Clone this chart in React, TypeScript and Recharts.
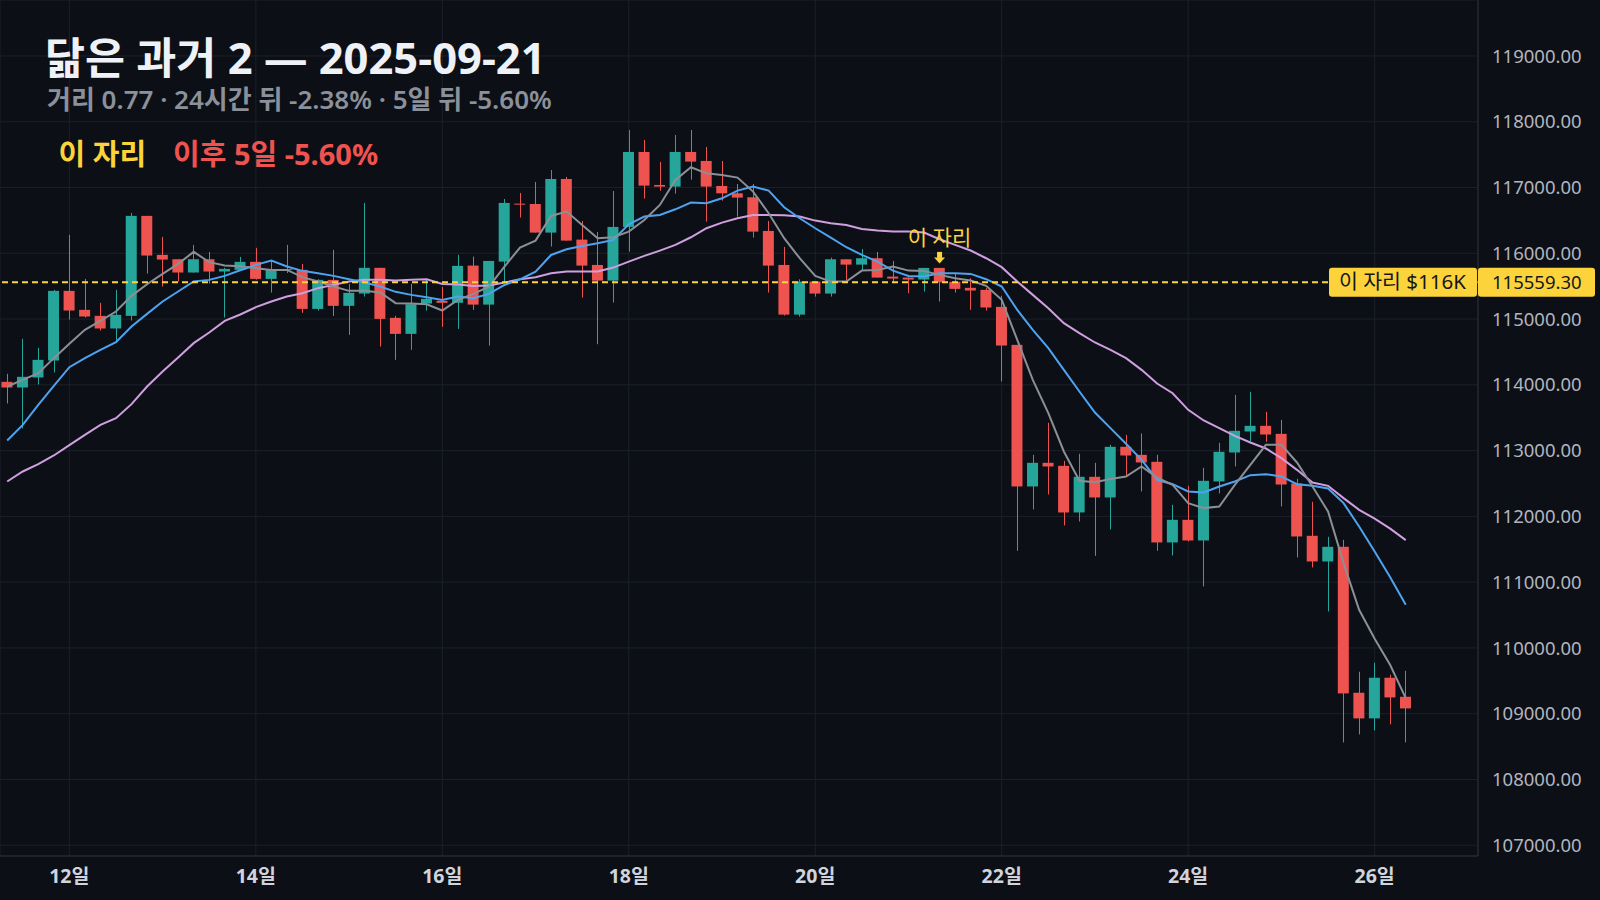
import React from "react";
import {
  Bar,
  CartesianGrid,
  ComposedChart,
  Line,
  ReferenceDot,
  ReferenceLine,
  XAxis,
  YAxis,
} from "recharts";

// 4h candles, 11일 08:00 ~ 26일 08:00
const opens = [
  114046, 113960, 114112, 114370, 115429, 115140, 115049, 114857, 115049, 116569,
  115976, 115910, 115708, 115910, 115723, 115748, 115870, 115611, 115748, 115748,
  115155, 115596, 115201, 115388, 115779, 115019, 114775, 115236, 115277, 115247,
  115813, 115220, 115874, 116755, 116750, 116315, 117130, 116208, 115823, 115585,
  116401, 117541, 117039, 117014, 117541, 117404, 117024, 116912, 116852, 116340,
  115823, 115068, 115570, 115388, 115909, 115828, 115925, 115646, 115631, 115601,
  115778, 115566, 115475, 115444, 115186, 114608, 112455, 112815, 112769, 112060,
  112602, 112288, 113058, 112936, 112830, 111604, 111948, 111634, 112531, 112972,
  113291, 113377, 113255, 112500, 111705, 111315, 111538, 109319, 108929, 109547,
  109258,
];
const highs = [
  114168, 114700, 114563, 115444, 116280, 115611, 115247, 115444, 116614, 116569,
  116250, 115910, 116128, 116022, 115779, 115946, 116083, 115890, 116128, 115839,
  115606, 116052, 115535, 116766, 115779, 115050, 115535, 115596, 115490, 115976,
  115950, 115884, 116826, 116918, 117085, 117267, 117161, 116492, 116325, 116948,
  117875, 117723, 117389, 117799, 117875, 117617, 117404, 117054, 117054, 116492,
  116097, 115605, 115570, 115935, 115909, 116066, 116021, 115884, 115631, 115778,
  115778, 115697, 115621, 115470, 115353, 114608, 112936, 113423, 112845, 112952,
  112815, 113089, 113240, 113261, 112936, 112176, 112465, 112739, 113119, 113848,
  113894, 113590, 113468, 112571, 112222, 111690, 111644, 109638, 109775, 109593,
  109653,
];
const lows = [
  113717, 113337, 114005, 114188, 114993, 115024, 114826, 114659, 114978, 115692,
  115495, 115571, 115708, 115540, 115024, 115748, 115600, 115404, 115700, 115095,
  115130, 115049, 114760, 115343, 114583, 114380, 114532, 115130, 114882, 114851,
  115139, 114597, 115560, 116543, 116315, 116102, 116193, 115327, 114618, 115251,
  116026, 116831, 116953, 116907, 117120, 116482, 116801, 116558, 116239, 115403,
  115053, 115038, 115342, 115342, 115595, 115747, 115631, 115545, 115393, 115418,
  115267, 115404, 115140, 115130, 114051, 111477, 112106, 112334, 111862, 111923,
  111401, 111802, 112607, 112379, 111477, 111406, 111619, 110935, 112349, 112759,
  113139, 113134, 112151, 111376, 111224, 110555, 108564, 108686, 108746, 108838,
  108564,
];
const closes = [
  113960, 114122, 114380, 115429, 115130, 115039, 114857, 115064, 116569, 115966,
  115905, 115708, 115910, 115723, 115763, 115870, 115611, 115748, 115760, 115155,
  115596, 115201, 115399, 115779, 115003, 114775, 115226, 115307, 115247, 115809,
  115220, 115884, 116766, 116745, 116315, 117130, 116193, 115813, 115585, 116401,
  117541, 117029, 117014, 117541, 117394, 117014, 116912, 116847, 116330, 115813,
  115068, 115570, 115388, 115909, 115828, 115925, 115631, 115616, 115601, 115778,
  115559.3, 115459, 115434, 115176, 114598, 112455, 112815, 112759, 112060, 112602,
  112288, 113058, 112926, 112820, 111604, 111948, 111634, 112541, 112982, 113301,
  113377, 113245, 112485, 111695, 111315, 111538, 109309, 108929, 109547, 109248,
  109081,
];

// moving averages as drawn (fast / mid / slow)
const maFast = [
  113975, 114076, 114178, 114406, 114624, 114836, 114973, 115115, 115353, 115530,
  115687, 115839, 116022, 115865, 115814, 115805, 115774, 115748, 115748, 115637,
  115571, 115495, 115429, 115429, 115404, 115242, 115237, 115226, 115130, 115292,
  115383, 115494, 115798, 116087, 116193, 116568, 116634, 116431, 116229, 116244,
  116330, 116507, 116735, 117115, 117308, 117216, 117191, 117151, 116938, 116609,
  116229, 115925, 115656, 115570, 115570, 115737, 115747, 115798, 115737, 115730,
  115672, 115621, 115586, 115505, 115292, 114684, 114076, 113570, 112987, 112541,
  112521, 112567, 112607, 112759, 112590, 112480, 112202, 112126, 112151, 112480,
  112784, 113088, 113088, 112820, 112455, 112075, 111290, 110580, 110140, 109740,
  109238,
];
const maMid = [
  113154, 113392, 113696, 113985, 114269, 114406, 114532, 114649, 114887, 115079,
  115267, 115419, 115571, 115596, 115657, 115743, 115824, 115890, 115799, 115733,
  115697, 115657, 115606, 115556, 115495, 115414, 115368, 115333, 115292, 115343,
  115317, 115383, 115519, 115605, 115722, 115975, 116061, 116112, 116153, 116203,
  116441, 116558, 116583, 116669, 116771, 116760, 116836, 116953, 117014, 116953,
  116700, 116533, 116381, 116239, 116092, 115975, 115874, 115737, 115656, 115646,
  115697, 115697, 115687, 115606, 115495, 115140, 114836, 114558, 114228, 113899,
  113580, 113342, 113104, 112860, 112557, 112490, 112379, 112364, 112455, 112531,
  112627, 112642, 112607, 112490, 112465, 112425, 112202, 111847, 111467, 111075,
  110656,
];
const maSlow = [
  112531, 112683, 112795, 112926, 113083, 113240, 113392, 113494, 113707, 113975,
  114203, 114416, 114634, 114796, 114973, 115070, 115181, 115267, 115343, 115394,
  115470, 115520, 115571, 115596, 115596, 115586, 115596, 115606, 115535, 115525,
  115504, 115509, 115555, 115605, 115636, 115697, 115722, 115722, 115722, 115783,
  115874, 115960, 116041, 116127, 116244, 116381, 116467, 116533, 116583, 116583,
  116578, 116558, 116497, 116457, 116431, 116370, 116345, 116330, 116330, 116315,
  116214, 116128, 116042, 115925, 115789, 115571, 115368, 115166, 114938, 114786,
  114644, 114532, 114406, 114228, 114020, 113873, 113620, 113458, 113341, 113225,
  113124, 113032, 112886, 112708, 112516, 112465, 112278, 112100, 111966, 111814,
  111639,
];

const dayTicks = [4, 16, 28, 40, 52, 64, 76, 88];
const dayLabels = ["12일", "14일", "16일", "18일", "20일", "22일", "24일", "26일"];
const priceTicks = [
  107000, 108000, 109000, 110000, 111000, 112000, 113000, 114000, 115000, 116000,
  117000, 118000, 119000,
];

const markIndex = 60;
const markPrice = 115559.3;
const X_DOMAIN: [number, number] = [-0.4633, 94.65];
const Y_DOMAIN: [number, number] = [106837, 119851];

const BG = "#0c0f16";
const GRID = "#1c2029";
const BORDER = "#2a2e38";
const UP = "#26a69a";
const DOWN = "#ef5350";
const YELLOW = "#fdd33c";
const FONT = '"Noto Sans", "Noto Sans CJK KR", sans-serif';

const data = opens.map((o, i) => ({
  i,
  open: o,
  high: highs[i],
  low: lows[i],
  close: closes[i],
  range: [lows[i], highs[i]],
  maFast: maFast[i],
  maMid: maMid[i],
  maSlow: maSlow[i],
}));

function Candle(props: any) {
  const { x, y, width, height, payload } = props;
  if (!payload) return null;
  const top = Math.min(y, y + height);
  const h = Math.abs(height);
  const span = payload.high - payload.low || 1;
  const py = (v: number) => top + ((payload.high - v) / span) * h;
  const color = payload.close >= payload.open ? UP : DOWN;
  const cx = Math.round(x + width / 2) + 0.5;
  const bTop = py(Math.max(payload.open, payload.close));
  const bBot = py(Math.min(payload.open, payload.close));
  return (
    <g>
      <line x1={cx} x2={cx} y1={top} y2={top + h} stroke={color} strokeWidth={1} />
      <rect x={x} y={bTop} width={width} height={Math.max(1, bBot - bTop)} fill={color} />
    </g>
  );
}

function MarkArrow(props: any) {
  const { cx, cy } = props;
  if (cx == null || cy == null) return null;
  return (
    <g>
      <text
        x={cx}
        y={cy - 23}
        textAnchor="middle"
        fontSize={21}
        fontFamily={FONT}
        fill={YELLOW}
      >
        이 자리
      </text>
      <rect x={cx - 2.5} y={cy - 16} width={5} height={6} fill={YELLOW} />
      <polygon
        points={`${cx - 5.5},${cy - 10.5} ${cx + 5.5},${cy - 10.5} ${cx},${cy - 4.5}`}
        fill={YELLOW}
      />
    </g>
  );
}

function PriceTags(props: any) {
  const { cx, cy } = props;
  if (cx == null || cy == null) return null;
  return (
    <g>
      <rect x={cx - 149} y={cy - 14.5} width={148} height={29} rx={3} fill={YELLOW} />
      <text x={cx - 139} y={cy + 7} fontSize={20.5} fontFamily={FONT} fill="#15171c">
        이 자리 $116K
      </text>
      <rect x={cx} y={cy - 14.5} width={117} height={29} rx={3} fill={YELLOW} />
      <text x={cx + 14} y={cy + 6.5} fontSize={18.5} fontFamily={FONT} fill="#15171c">
        {markPrice.toFixed(2)}
      </text>
    </g>
  );
}

export default function App() {
  return (
    <div
      style={{
        position: "fixed",
        left: 0,
        top: 0,
        width: 1600,
        height: 900,
        background: BG,
        overflow: "hidden",
      }}
    >
      <ComposedChart
        width={1600}
        height={900}
        data={data}
        margin={{ top: 0, right: 0, left: 0, bottom: 0 }}
      >
        <CartesianGrid stroke={GRID} />
        <XAxis
          type="number"
          dataKey="i"
          domain={X_DOMAIN}
          allowDataOverflow
          ticks={dayTicks}
          interval={0}
          tickFormatter={(v) => dayLabels[dayTicks.indexOf(v)] ?? ""}
          tick={{ fill: "#d1d4dc", fontSize: 19.5, fontWeight: 700, fontFamily: FONT }}
          tickLine={false}
          axisLine={{ stroke: BORDER }}
          tickMargin={7}
          height={44}
        />
        <YAxis
          orientation="right"
          type="number"
          domain={Y_DOMAIN}
          allowDataOverflow
          ticks={priceTicks}
          interval={0}
          tickFormatter={(v) => Number(v).toFixed(2)}
          tick={{ fill: "#b2b5be", fontSize: 18.5, fontFamily: FONT }}
          tickLine={false}
          axisLine={{ stroke: BORDER }}
          tickMargin={8}
          width={122}
        />
        <Bar dataKey="range" barSize={11} shape={Candle} isAnimationActive={false} />
        <Line
          type="linear"
          dataKey="maSlow"
          stroke="#cf9fe0"
          strokeWidth={2}
          dot={false}
          activeDot={false}
          isAnimationActive={false}
        />
        <Line
          type="linear"
          dataKey="maMid"
          stroke="#4ea3f1"
          strokeWidth={2}
          dot={false}
          activeDot={false}
          isAnimationActive={false}
        />
        <Line
          type="linear"
          dataKey="maFast"
          stroke="#8b8f96"
          strokeWidth={2}
          dot={false}
          activeDot={false}
          isAnimationActive={false}
        />
        <ReferenceLine
          y={markPrice}
          stroke={YELLOW}
          strokeWidth={2}
          strokeDasharray="6 4"
        />
        <ReferenceDot
          x={markIndex}
          y={highs[markIndex]}
          r={0}
          shape={MarkArrow}
          ifOverflow="visible"
        />
        <ReferenceDot
          x={X_DOMAIN[1]}
          y={markPrice}
          r={0}
          shape={PriceTags}
          ifOverflow="visible"
        />
      </ComposedChart>
      <svg
        width={1600}
        height={200}
        style={{ position: "absolute", left: 0, top: 0, pointerEvents: "none" }}
      >
        <text x={45} y={74} fontSize={43.5} fontWeight={700} fontFamily={FONT} fill="#eef1f5">
          닮은 과거 2 — 2025-09-21
        </text>
        <text x={47} y={108.5} fontSize={26} fontWeight={600} fontFamily={FONT} fill="#8b919b">
          거리 0.77 · 24시간 뒤 -2.38% · 5일 뒤 -5.60%
        </text>
        <text x={58.5} y={165} fontSize={29} fontWeight={700} fontFamily={FONT} fill={YELLOW}>
          이 자리
        </text>
        <text x={173} y={165} fontSize={29} fontWeight={700} fontFamily={FONT} fill={DOWN}>
          이후 5일 -5.60%
        </text>
      </svg>
    </div>
  );
}
